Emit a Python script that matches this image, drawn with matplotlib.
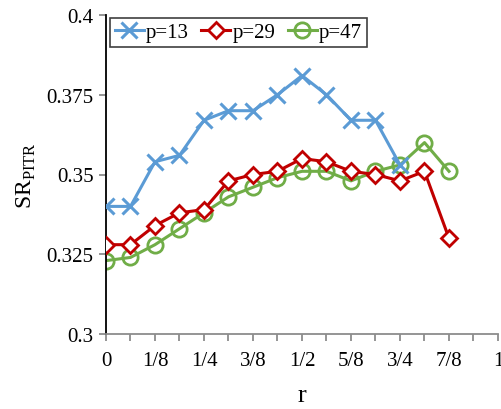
import matplotlib
matplotlib.use("Agg")
import matplotlib.pyplot as plt
from matplotlib.ticker import MultipleLocator

r_13 = [0, 1/16, 2/16, 3/16, 4/16, 5/16, 6/16, 7/16, 8/16, 9/16, 10/16, 11/16, 12/16]
sr_13 = [0.340, 0.340, 0.354, 0.356, 0.367, 0.370, 0.370, 0.375, 0.381, 0.375, 0.367, 0.367, 0.353]
r_29 = [0, 1/16, 2/16, 3/16, 4/16, 5/16, 6/16, 7/16, 8/16, 9/16, 10/16, 11/16, 12/16, 13/16, 14/16]
sr_29 = [0.328, 0.328, 0.334, 0.338, 0.339, 0.348, 0.350, 0.351, 0.355, 0.354, 0.351, 0.350, 0.348, 0.351, 0.330]
r_47 = [0, 1/16, 2/16, 3/16, 4/16, 5/16, 6/16, 7/16, 8/16, 9/16, 10/16, 11/16, 12/16, 13/16, 14/16]
sr_47 = [0.323, 0.324, 0.328, 0.333, 0.338, 0.343, 0.346, 0.349, 0.351, 0.351, 0.348, 0.351, 0.353, 0.360, 0.351]

xtick_vals = [0, 1/8, 1/4, 3/8, 1/2, 5/8, 3/4, 7/8, 1]
xtick_labels = ["0", "1/8", "1/4", "3/8", "1/2", "5/8", "3/4", "7/8", "1"]
ytick_vals = [0.3, 0.325, 0.35, 0.375, 0.4]
ytick_labels = ["0.3", "0.325", "0.35", "0.375", "0.4"]

plt.rcParams['font.family'] = ['Liberation Serif', 'DejaVu Serif']
plt.rcParams['mathtext.fontset'] = 'custom'
plt.rcParams['mathtext.rm'] = 'Liberation Serif'

fig = plt.figure(figsize=(5.02, 4.10), dpi=100)
ax = fig.add_axes([106/502, 1-335/410, (498-106)/502, (335-16)/410])

blue = '#5B9BD5'
red = '#C00000'
green = '#70AD47'

ax.plot(r_13, sr_13, color=blue, lw=2.2, marker='x', ms=11, mew=2.2, label='p=13', zorder=3)
ax.plot(r_29, sr_29, color=red, lw=2.2, marker='D', ms=8, mew=2, mfc='white', label='p=29', zorder=4)
ax.plot(r_47, sr_47, color=green, lw=2.2, marker='o', ms=11, mew=2, mfc='none', label='p=47', zorder=2)

ax.set_xlim(0, 1)
ax.set_ylim(0.3, 0.4)
ax.set_xticks(xtick_vals)
ax.set_xticklabels(xtick_labels)
ax.xaxis.set_minor_locator(MultipleLocator(1/16))
ax.set_yticks(ytick_vals)
ax.set_yticklabels(ytick_labels)

for s in ['top', 'right']:
    ax.spines[s].set_visible(False)
ax.spines['left'].set_color('black')
ax.spines['left'].set_linewidth(1.3)
ax.spines['bottom'].set_color('#8c8c8c')
ax.spines['bottom'].set_linewidth(1.3)

ax.tick_params(axis='x', which='both', direction='out', length=5, width=1.3, color='#8c8c8c', labelsize=15, pad=7)
ax.tick_params(axis='y', which='both', direction='out', length=5, width=1.3, color='#8c8c8c', labelsize=15, pad=4)

ax.set_xlabel('r', fontsize=19, labelpad=10)
ax.set_ylabel(r'SR$_{\mathregular{PITR}}$', fontsize=17, labelpad=6)

leg = ax.legend(loc='upper left', bbox_to_anchor=(0.01, 0.99), ncol=3, fontsize=15,
                frameon=True, fancybox=False, edgecolor='#404040', framealpha=1,
                handlelength=1.4, handletextpad=0.1, columnspacing=0.6, borderpad=0.22,
                borderaxespad=0.0)
leg.get_frame().set_linewidth(1.2)

fig.savefig('out.png', dpi=100)
